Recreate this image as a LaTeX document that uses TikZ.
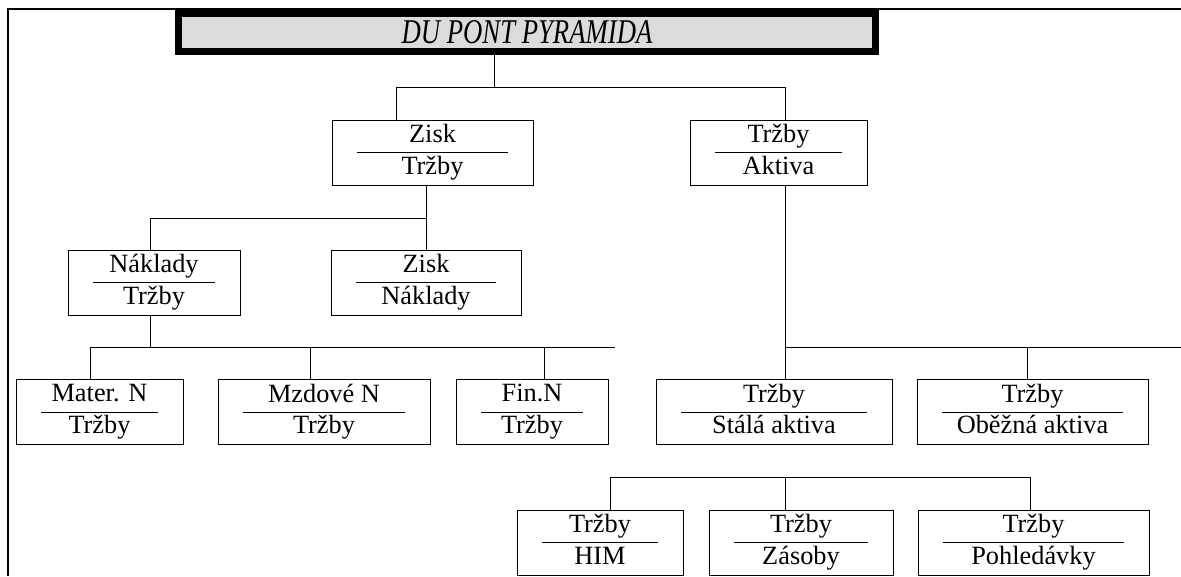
\documentclass[tikz,border=0pt]{standalone}
\usepackage{fontspec}
\setmainfont{Liberation Serif}
\usepackage{graphicx}
\usepackage{tikz}
\usetikzlibrary{positioning}
\newcommand{\lstrut}{\rule[-3.6pt]{0pt}{13.3pt}}
\newcommand{\frc}[2]{\lstrut #1\\\lstrut #2}
\tikzset{
	x=0.02cm, y=-0.02cm, % one unit = one pixel of the scan
	line width=1.5pt,
	ratio/.style={draw, inner sep=0pt, minimum height=1.3cm, align=center,
		font=\fontsize{15pt}{18pt}\selectfont,
		path picture={\draw ([xshift=0.5cm]path picture bounding box.west) -- ([xshift=-0.5cm]path picture bounding box.east);}},
	headline/.style={draw, line width=4pt, fill=black!14, inner sep=0pt,
		minimum width=13.94cm, minimum height=0.76cm,
		font=\fontsize{15.2pt}{18pt}\selectfont\itshape},
}

\begin{document}
\begin{tikzpicture}
	\useasboundingbox (0,0) rectangle (1181,576);
	\draw[line width=1.6pt] (8,576) -- (8,9) -- (1181,9);

	\node[headline] (pyr) at (527,32.5) {\scalebox{1}[1.3]{DU PONT PYRAMIDA}};

	\node[ratio, minimum width=4.02cm] (zt) at (432.5,152.5) {\frc{Zisk}{Tržby}};
	\node[ratio, minimum width=3.54cm] (ta) at (778.5,152.5) {\frc{Tržby}{Aktiva}};

	\node[ratio, minimum width=3.44cm] (nt) at (154,282.5) {\frc{Náklady}{Tržby}};
	\node[ratio, minimum width=3.8cm] (zn) at (426,282.5) {\frc{Zisk}{Náklady}};

	\node[ratio, minimum width=3.34cm] (ma) at (99.5,412) {\frc{Mater. N}{Tržby}};
	\node[ratio, minimum width=4.24cm] (mz) at (324,412) {\frc{Mzdové N}{Tržby}};
	\node[ratio, minimum width=3.04cm] (fi) at (532,412) {\frc{Fin.N}{Tržby}};
	\node[ratio, minimum width=4.72cm] (st) at (774,412) {\frc{Tržby}{Stálá aktiva}};
	\node[ratio, minimum width=4.62cm] (ob) at (1032.5,412) {\frc{Tržby}{Oběžná aktiva}};

	\node[ratio, minimum width=3.32cm] (him) at (600,542.5) {\frc{Tržby}{HIM}};
	\node[ratio, minimum width=3.68cm] (zas) at (801,542.5) {\frc{Tržby}{Zásoby}};
	\node[ratio, minimum width=4.62cm] (poh) at (1033.5,542.5) {\frc{Tržby}{Pohledávky}};

	% first level
	\coordinate (a1) at (494,87);
	\coordinate (a2) at (396,87);
	\coordinate (a3) at (785,87);
	\draw (pyr.south -| a1) -- (a1);
	\draw (a2 |- zt.north) -- (a2) -- (a3) -- (a3 |- ta.north);

	% second level
	\coordinate (b1) at (150,218);
	\draw (zn.north) -- (zn.north |- zt.south);
	\draw (zn.north |- b1) -- (b1) -- (b1 |- nt.north);

	% costs
	\coordinate (c0) at (150,347);
	\coordinate (c1) at (90,347);
	\coordinate (c2) at (310,347);
	\coordinate (c3) at (544,347);
	\coordinate (c4) at (615,347);
	\draw (c0 |- nt.south) -- (c0);
	\draw (c1 |- ma.north) -- (c1) -- (c4);
	\draw (c2) -- (c2 |- mz.north);
	\draw (c3) -- (c3 |- fi.north);

	% assets
	\coordinate (d0) at (785,347);
	\coordinate (d1) at (1181,347);
	\coordinate (d2) at (1027,347);
	\draw (d0 |- ta.south) -- (d0) -- (d1);
	\draw (d0) -- (d0 |- st.north);
	\draw (d2) -- (d2 |- ob.north);

	\coordinate (e1) at (610,477);
	\coordinate (e2) at (785,477);
	\coordinate (e3) at (1030,477);
	\draw (e1 |- him.north) -- (e1) -- (e3) -- (e3 |- poh.north);
	\draw (e2) -- (e2 |- zas.north);
\end{tikzpicture}
\end{document}
